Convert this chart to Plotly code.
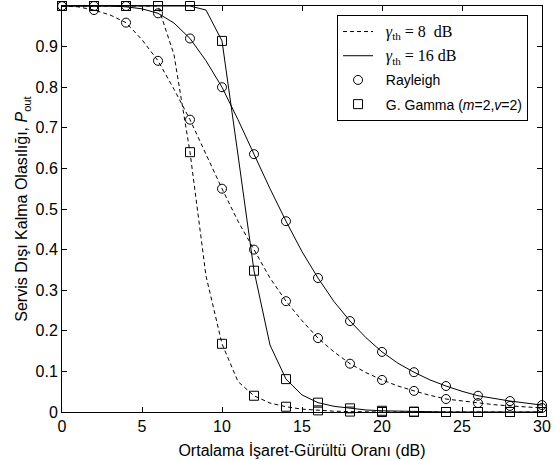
import plotly.graph_objects as go

# ---- data ----
snr_line = list(range(0, 31))          # dB, curve sampling
snr_mark = list(range(0, 31, 2))       # dB, marker positions

# Rayleigh, gamma_th = 8 dB
ray8_line = [1.0, 0.998, 0.990, 0.978, 0.959, 0.917, 0.865, 0.795, 0.720, 0.635,
             0.550, 0.470, 0.400, 0.330, 0.273, 0.225, 0.182, 0.148, 0.119, 0.097,
             0.079, 0.064, 0.052, 0.041, 0.032, 0.027, 0.022, 0.018, 0.015, 0.012, 0.010]
# Rayleigh, gamma_th = 16 dB
ray16_line = [1.0, 1.0, 1.0, 1.0, 0.998, 0.993, 0.982, 0.958, 0.920, 0.865,
              0.800, 0.720, 0.635, 0.550, 0.470, 0.395, 0.330, 0.272, 0.224, 0.183,
              0.148, 0.120, 0.098, 0.079, 0.064, 0.051, 0.040, 0.033, 0.027, 0.022, 0.017]
# Generalized Gamma (m=2, v=2), gamma_th = 8 dB
gg8_line = [1.0, 1.0, 1.0, 1.0, 1.0, 1.0, 1.0, 0.880, 0.640, 0.335,
            0.168, 0.075, 0.040, 0.022, 0.013, 0.007, 0.004, 0.002, 0.001, 0.0,
            0.0, 0.0, 0.0, 0.0, 0.0, 0.0, 0.0, 0.0, 0.0, 0.0, 0.0]
# Generalized Gamma (m=2, v=2), gamma_th = 16 dB
gg16_line = [1.0, 1.0, 1.0, 1.0, 1.0, 1.0, 1.0, 1.0, 1.0, 0.990,
             0.914, 0.633, 0.348, 0.165, 0.081, 0.042, 0.023, 0.014, 0.009, 0.005,
             0.003, 0.002, 0.001, 0.0, 0.0, 0.0, 0.0, 0.0, 0.0, 0.0, 0.0]

ray8_mark = [1.0, 0.990, 0.959, 0.865, 0.720, 0.550, 0.400, 0.273, 0.182, 0.119,
             0.079, 0.052, 0.032, 0.022, 0.015, 0.010]
ray16_mark = [1.0, 1.0, 1.0, 0.982, 0.920, 0.800, 0.635, 0.470, 0.330, 0.224,
              0.148, 0.098, 0.064, 0.040, 0.027, 0.017]
gg8_mark = [1.0, 1.0, 1.0, 1.0, 0.640, 0.168, 0.040, 0.013, 0.004, 0.001,
            0.0, 0.0, 0.0, 0.0, 0.0, 0.0]
gg16_mark = [1.0, 1.0, 1.0, 1.0, 1.0, 0.914, 0.348, 0.081, 0.023, 0.009,
             0.003, 0.001, 0.0, 0.0, 0.0, 0.0]

x_ticks = [0, 5, 10, 15, 20, 25, 30]
y_ticks = [0, 0.1, 0.2, 0.3, 0.4, 0.5, 0.6, 0.7, 0.8, 0.9, 1]

SERIF = "Liberation Serif, Times New Roman, serif"
PAD = "\u00a0\u00a0"
name8 = f'{PAD}<span style="font-family:{SERIF};font-size:16px"><i>γ</i><sub>th</sub> = 8  dB</span>'
name16 = f'{PAD}<span style="font-family:{SERIF};font-size:16px"><i>γ</i><sub>th</sub> = 16 dB</span>'

DASH = "4px,3px"
fig = go.Figure()

# lines
fig.add_trace(go.Scatter(x=snr_line, y=ray8_line, mode="lines", name=name8,
                         line=dict(color="black", width=1, dash=DASH),
                         legendrank=1, legendgroup="a", cliponaxis=False))
fig.add_trace(go.Scatter(x=snr_line, y=gg8_line, mode="lines", showlegend=False,
                         line=dict(color="black", width=1, dash=DASH), cliponaxis=False))
fig.add_trace(go.Scatter(x=snr_line, y=ray16_line, mode="lines", name=name16,
                         line=dict(color="black", width=1),
                         legendrank=2, legendgroup="b", cliponaxis=False))
fig.add_trace(go.Scatter(x=snr_line, y=gg16_line, mode="lines", showlegend=False,
                         line=dict(color="black", width=1), cliponaxis=False))

# markers
mk_c = dict(symbol="circle-open", size=9, color="black", line=dict(width=1, color="black"))
mk_s = dict(symbol="square-open", size=9, color="black", line=dict(width=1, color="black"))
fig.add_trace(go.Scatter(x=snr_mark, y=ray8_mark, mode="markers", name=PAD + "Rayleigh",
                         marker=mk_c, legendrank=3, legendgroup="c", cliponaxis=False))
fig.add_trace(go.Scatter(x=snr_mark, y=ray16_mark, mode="markers", showlegend=False,
                         marker=mk_c, cliponaxis=False))
fig.add_trace(go.Scatter(x=snr_mark, y=gg8_mark, mode="markers",
                         name=PAD + "G. Gamma (<i>m</i>=2,<i>v</i>=2)",
                         marker=mk_s, legendrank=4, legendgroup="d", cliponaxis=False))
fig.add_trace(go.Scatter(x=snr_mark, y=gg16_mark, mode="markers", showlegend=False,
                         marker=mk_s, cliponaxis=False))

axis_common = dict(showgrid=False, zeroline=False, showline=True, linecolor="black",
                   linewidth=1, mirror="ticks", ticks="inside", ticklen=5,
                   tickcolor="black", tickfont=dict(size=16, color="black"),
                   automargin=False)

fig.update_layout(
    width=555, height=461,
    margin=dict(l=62, r=13, t=6, b=49),
    paper_bgcolor="white", plot_bgcolor="white",
    font=dict(family="Liberation Sans, Arial, sans-serif", color="black", size=14),
    xaxis=dict(range=[0, 30], tickvals=x_ticks, **axis_common,
               title=dict(text="Ortalama İşaret-Gürültü Oranı (dB)",
                          font=dict(size=16), standoff=10)),
    yaxis=dict(range=[0, 1], tickvals=y_ticks, **axis_common,
               title=dict(text="Servis Dışı Kalma Olasılığı, <i>P</i><sub>out</sub>",
                          font=dict(size=16), standoff=3)),
    legend=dict(x=0.573, y=0.978, xanchor="left", yanchor="top",
                bgcolor="white", bordercolor="black", borderwidth=1,
                font=dict(size=14), itemwidth=30, traceorder="grouped",
                tracegroupgap=3, entrywidth=160, entrywidthmode="pixels"),
    showlegend=True,
)

fig.write_html("out.html", config={"displayModeBar": False},
               post_script="document.body.style.margin='0';")
